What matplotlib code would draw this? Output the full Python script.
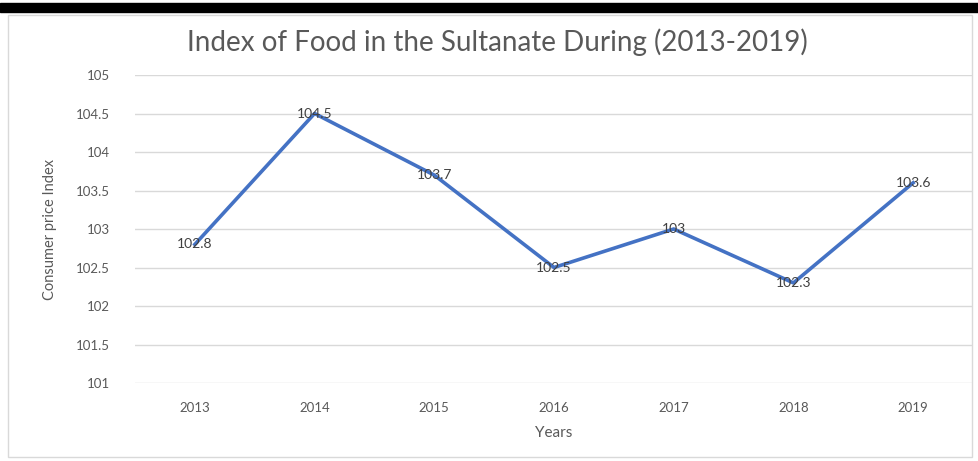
import matplotlib.pyplot as plt
from matplotlib.patches import Rectangle

years = ['2013', '2014', '2015', '2016', '2017', '2018', '2019']
cpi = [102.8, 104.5, 103.7, 102.5, 103.0, 102.3, 103.6]
cpi_labels = ['102.8', '104.5', '103.7', '102.5', '103', '102.3', '103.6']
y_ticks = [101, 101.5, 102, 102.5, 103, 103.5, 104, 104.5, 105]

plt.rcParams['font.family'] = ['Lato', 'DejaVu Sans']

W, H = 979, 461
fig = plt.figure(figsize=(W / 100, H / 100), dpi=100)

# black rule across the top and the chart frame
fig.patches.append(Rectangle((0, 1 - 12 / H), 1, 9 / H, transform=fig.transFigure,
                             color='black', zorder=0))
fig.patches.append(Rectangle((8 / W, 4 / H), 964 / W, (H - 19) / H, transform=fig.transFigure,
                             facecolor='none', edgecolor='#d9d9d9', lw=1, zorder=0))

ax = fig.add_axes([135 / W, 1 - 383 / H, (973 - 135) / W, (383 - 75) / H])
ax.set_zorder(2)
ax.patch.set_alpha(0)
x = list(range(len(years)))
ax.plot(x, cpi, color='#4472c4', lw=2.6, solid_joinstyle='round', zorder=3)
for xi, v, lab in zip(x, cpi, cpi_labels):
    ax.text(xi, v, lab, ha='center', va='center', fontsize=10, color='#404040', zorder=4)

ax.set_xlim(-0.5, len(years) - 0.5)
ax.set_ylim(101, 105)
ax.set_yticks(y_ticks)
ax.set_yticklabels([f'{t:g}' for t in y_ticks])
ax.set_xticks(x)
ax.set_xticklabels(years)
ax.tick_params(axis='both', length=0, labelsize=9.5, labelcolor='#595959')
ax.tick_params(axis='x', pad=14)
ax.tick_params(axis='y', pad=18)
ax.grid(axis='y', color='#d9d9d9', lw=1)
ax.set_axisbelow(True)
for s in ax.spines.values():
    s.set_visible(False)

ax.set_xlabel('Years', fontsize=11, color='#595959', labelpad=8)
ax.set_ylabel('Consumer price Index', fontsize=10.5, color='#595959', labelpad=14)

fig.text(497 / W, 1 - 42 / H, 'Index of Food in the Sultanate During (2013-2019)',
         ha='center', va='center', fontsize=20, color='#595959')

fig.savefig('out.png', dpi=100)
